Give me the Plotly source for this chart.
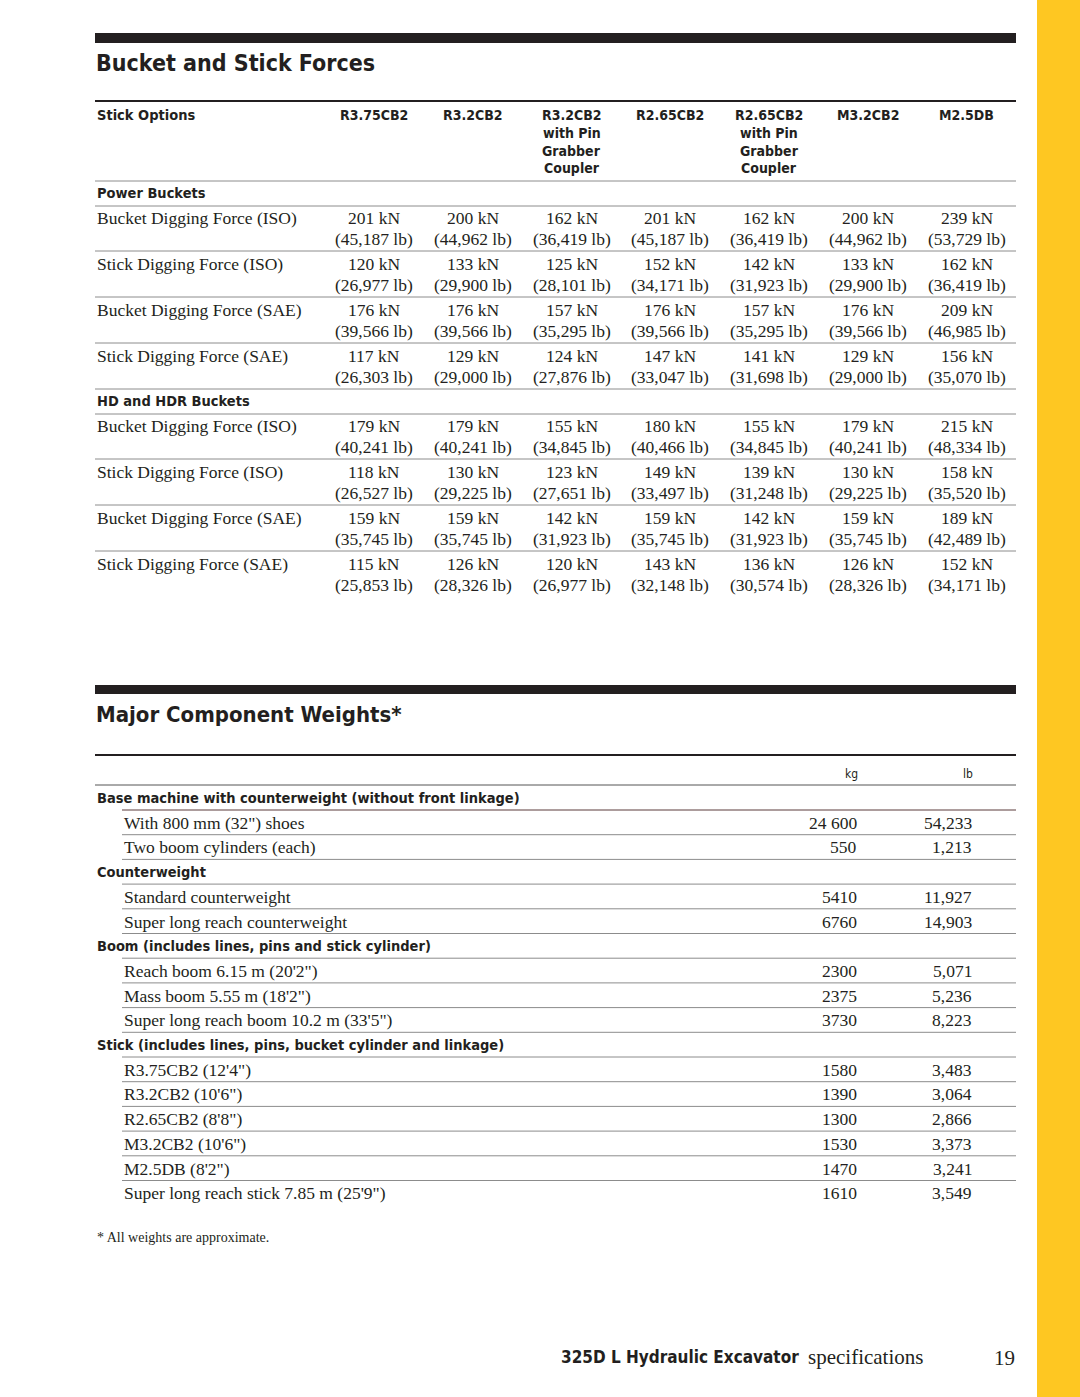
import plotly.graph_objects as go

# ---- data ----
stick_options = ["R3.75CB2", "R3.2CB2", "R3.2CB2|with Pin|Grabber|Coupler", "R2.65CB2",
                 "R2.65CB2|with Pin|Grabber|Coupler", "M3.2CB2", "M2.5DB"]
force_labels = ["Bucket Digging Force (ISO)", "Stick Digging Force (ISO)",
                "Bucket Digging Force (SAE)", "Stick Digging Force (SAE)"]

power_kn = [[201, 200, 162, 201, 162, 200, 239],
            [120, 133, 125, 152, 142, 133, 162],
            [176, 176, 157, 176, 157, 176, 209],
            [117, 129, 124, 147, 141, 129, 156]]
power_lb = [[45187, 44962, 36419, 45187, 36419, 44962, 53729],
            [26977, 29900, 28101, 34171, 31923, 29900, 36419],
            [39566, 39566, 35295, 39566, 35295, 39566, 46985],
            [26303, 29000, 27876, 33047, 31698, 29000, 35070]]
hd_kn = [[179, 179, 155, 180, 155, 179, 215],
         [118, 130, 123, 149, 139, 130, 158],
         [159, 159, 142, 159, 142, 159, 189],
         [115, 126, 120, 143, 136, 126, 152]]
hd_lb = [[40241, 40241, 34845, 40466, 34845, 40241, 48334],
         [26527, 29225, 27651, 33497, 31248, 29225, 35520],
         [35745, 35745, 31923, 35745, 31923, 35745, 42489],
         [25853, 28326, 26977, 32148, 30574, 28326, 34171]]
force_groups = [("Power Buckets", power_kn, power_lb), ("HD and HDR Buckets", hd_kn, hd_lb)]

weight_headers = ["Base machine with counterweight (without front linkage)",
                  "Counterweight",
                  "Boom (includes lines, pins and stick cylinder)",
                  "Stick (includes lines, pins, bucket cylinder and linkage)"]
weight_items = [["With 800 mm (32\") shoes", "Two boom cylinders (each)"],
                ["Standard counterweight", "Super long reach counterweight"],
                ["Reach boom 6.15 m (20'2\")", "Mass boom 5.55 m (18'2\")", "Super long reach boom 10.2 m (33'5\")"],
                ["R3.75CB2 (12'4\")", "R3.2CB2 (10'6\")", "R2.65CB2 (8'8\")", "M3.2CB2 (10'6\")",
                 "M2.5DB (8'2\")", "Super long reach stick 7.85 m (25'9\")"]]
weight_kg = [["24 600", "550"], ["5410", "6760"], ["2300", "2375", "3730"],
             ["1580", "1390", "1300", "1530", "1470", "1610"]]
weight_lb = [["54,233", "1,213"], ["11,927", "14,903"], ["5,071", "5,236", "8,223"],
             ["3,483", "3,064", "2,866", "3,373", "3,241", "3,549"]]

# ---- style / layout constants ----
W, H = 1080, 1397
X0, X1 = 95, 1016
INK = "#231f20"
RULE = "#8c8c8c"
YELLOW = "#fec722"
COND = "DejaVu Sans Condensed, Liberation Sans Narrow, Arial Narrow, sans-serif"
SERIF = "Liberation Serif, Times New Roman, serif"
BODY = 17.5
HEAD = 14.5

fig = go.Figure()
shapes = []
ann = []


def text(x, y, s, family, size, anchor="left", bold=False, color=INK):
    if bold:
        s = "<b>" + s + "</b>"
    ann.append(dict(x=x, y=y, text=s, xref="x", yref="y", showarrow=False,
                    xanchor=anchor, yanchor="middle",
                    font=dict(family=family, size=size, color=color)))


def hline(y, x0=X0, x1=X1, width=1, color=RULE):
    shapes.append(dict(type="line", xref="x", yref="y", x0=x0, x1=x1, y0=y, y1=y,
                       line=dict(color=color, width=width)))


# yellow strip
shapes.append(dict(type="rect", xref="x", yref="y", x0=1037, x1=W, y0=0, y1=H,
                   fillcolor=YELLOW, line_width=0, layer="below"))

# ---- Bucket and Stick Forces ----
shapes.append(dict(type="rect", xref="x", yref="y", x0=X0, x1=X1, y0=33, y1=43,
                   fillcolor=INK, line_width=0))
text(X0 - 1, 63, "Bucket and Stick Forces", COND, 23, bold=True)
hline(101, width=2, color=INK)

col_x0, col_step = 374, 98.8
text(X0, 115, "Stick Options", COND, HEAD, bold=True)
for i, opt in enumerate(stick_options):
    for j, part in enumerate(opt.split("|")):
        text(col_x0 + i * col_step, 115 + j * 17.8, part, COND, 14, anchor="center", bold=True)
hline(181)

g = 193
for name, kn, lb in force_groups:
    text(X0, g, name, COND, HEAD, bold=True)
    hline(g + 13)
    for r, lab in enumerate(force_labels):
        y = g + 25 + r * 46
        text(X0, y, lab, SERIF, BODY)
        for i in range(len(stick_options)):
            cx = col_x0 + i * col_step
            text(cx, y, f"{kn[r][i]} kN", SERIF, BODY, anchor="center")
            text(cx, y + 21, f"({lb[r][i]:,} lb)", SERIF, BODY, anchor="center")
        if not (name == force_groups[-1][0] and r == len(force_labels) - 1):
            hline(y + 33)
    g = g + 25 + (len(force_labels) - 1) * 46 + 33 + 12

# ---- Major Component Weights ----
shapes.append(dict(type="rect", xref="x", yref="y", x0=X0, x1=X1, y0=685, y1=694,
                   fillcolor=INK, line_width=0))
text(X0 - 1, 714, "Major Component Weights*", COND, 22, bold=True)
hline(755, width=2, color=INK)
text(851, 774, "kg", COND, 12, anchor="center")
text(968, 774, "lb", COND, 12, anchor="center")
hline(785, color="#555")

KG_X, LB_X = 859, 974
row = 0
pitch = 24.7
total = sum(1 + len(it) for it in weight_items)
for h, items, kgs, lbs in zip(weight_headers, weight_items, weight_kg, weight_lb):
    y = 798 + row * pitch
    text(X0, y, h, COND, HEAD, bold=True)
    hline(y + 12, x0=122, color="#5a3a3a" if row == 0 else RULE)
    row += 1
    for it, kg, lb in zip(items, kgs, lbs):
        y = 798 + row * pitch
        text(122, y, it, SERIF, BODY)
        text(KG_X, y, kg, SERIF, BODY, anchor="right")
        text(LB_X, y, lb, SERIF, BODY, anchor="right")
        row += 1
        if row < total:
            hline(y + 12, x0=122)

text(X0, 1237, "* All weights are approximate.", SERIF, 14)

# footer
text(801, 1357, "325D L Hydraulic Excavator", COND, 17, anchor="right", bold=True)
text(806, 1357, "specifications", SERIF, 21)
text(1004, 1358, "19", SERIF, 21, anchor="center")

fig.update_layout(
    width=W, height=H, margin=dict(l=0, r=0, t=0, b=0),
    paper_bgcolor="white", plot_bgcolor="white", showlegend=False,
    xaxis=dict(range=[0, W], visible=False, fixedrange=True),
    yaxis=dict(range=[H, 0], visible=False, fixedrange=True),
    shapes=shapes, annotations=ann,
)
# drop the default page margin so the figure sits flush in the window
fig.write_html("out.html", config={"displayModeBar": False},
               post_script="document.body.style.margin='0';")
